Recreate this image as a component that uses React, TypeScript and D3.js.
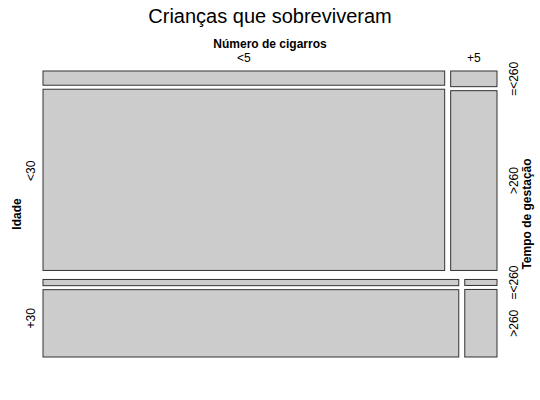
import React from 'react';
import * as d3 from 'd3';

// Crianças que sobreviveram: Idade x Número de cigarros x Tempo de gestação
const idade = ['<30', '+30'];
const cigarros = ['<5', '+5'];
const gestacao = ['=<260', '>260'];
// order: (<30,<5), (<30,+5), (+30,<5), (+30,+5)
const sobrevAte260 = [315, 40, 147, 11];
const sobrevMais260 = [4012, 459, 1594, 124];

const W = 540;
const H = 400;
const X0 = 43, X1 = 497, Y0 = 71, Y1 = 357;
const gapIdade = 9, gapCig = 6, gapGest = 4;
const font = '"Liberation Sans", Arial, Helvetica, sans-serif';

// split [a,b] proportionally to counts with a fixed gap between pieces
function split(a: number, b: number, counts: number[], gap: number) {
  const total = d3.sum(counts);
  const s = d3.scaleLinear().domain([0, total]).range([0, b - a - gap * (counts.length - 1)]);
  let cum = 0;
  return counts.map((c, i) => {
    const start = a + s(cum) + i * gap;
    cum += c;
    const end = a + s(cum) + i * gap;
    return [start, end];
  });
}

function cellCounts(i: number, j: number) {
  const k = i * cigarros.length + j;
  return [sobrevAte260[k], sobrevMais260[k]];
}

export default function App() {
  const idadeTotals = idade.map((_, i) =>
    d3.sum(cigarros.map((_, j) => d3.sum(cellCounts(i, j)))));
  const rows = split(Y0, Y1, idadeTotals, gapIdade);

  const rects: any[] = [];
  const rowCols: number[][][] = [];
  const rowGest: number[][][][] = [];
  rows.forEach(([ya, yb], i) => {
    const cols = split(X0, X1, cigarros.map((_, j) => d3.sum(cellCounts(i, j))), gapCig);
    rowCols.push(cols);
    const gs: number[][][] = [];
    cols.forEach(([xa, xb], j) => {
      const g = split(ya, yb, cellCounts(i, j), gapGest);
      gs.push(g);
      g.forEach(([ga, gb], k) => {
        rects.push({ key: `${i}-${j}-${k}`, x: xa, y: ga, w: xb - xa, h: gb - ga });
      });
    });
    rowGest.push(gs);
  });

  const midY = (Y0 + Y1) / 2;
  const lastCol = cigarros.length - 1;

  return (
    <svg width={W} height={H} style={{ position: 'absolute', left: 0, top: 0 }} fontFamily={font}>
      <rect width={W} height={H} fill="#fff" />
      <text x={270} y={23} fontSize={20} textAnchor="middle">Crianças que sobreviveram</text>

      {rects.map(r => (
        <rect key={r.key} x={r.x} y={r.y} width={r.w} height={r.h}
          fill="#cccccc" stroke="#333" strokeWidth={1} />
      ))}

      <text x={(X0 + X1) / 2} y={48} fontSize={12} fontWeight="bold" textAnchor="middle">Número de cigarros</text>
      {cigarros.map((c, j) => (
        <text key={c} x={(rowCols[0][j][0] + rowCols[0][j][1]) / 2} y={62} fontSize={12} textAnchor="middle">{c}</text>
      ))}

      <text x={20.5} y={midY} fontSize={12} fontWeight="bold" textAnchor="middle"
        transform={`rotate(-90, 20.5, ${midY})`}>Idade</text>
      {idade.map((a, i) => {
        const cy = (rows[i][0] + rows[i][1]) / 2;
        return (
          <text key={a} x={35.5} y={cy} fontSize={12} textAnchor="middle"
            transform={`rotate(-90, 35.5, ${cy})`}>{a}</text>
        );
      })}

      <text x={531} y={midY} fontSize={12} fontWeight="bold" textAnchor="middle"
        transform={`rotate(-90, 531, ${midY})`}>Tempo de gestação</text>
      {idade.map((_, i) =>
        gestacao.map((g, k) => {
          const [ga, gb] = rowGest[i][lastCol][k];
          const cy = (ga + gb) / 2;
          return (
            <text key={`${i}-${g}`} x={518} y={cy} fontSize={12} textAnchor="middle"
              transform={`rotate(-90, 518, ${cy})`}>{g}</text>
          );
        })
      )}
    </svg>
  );
}
